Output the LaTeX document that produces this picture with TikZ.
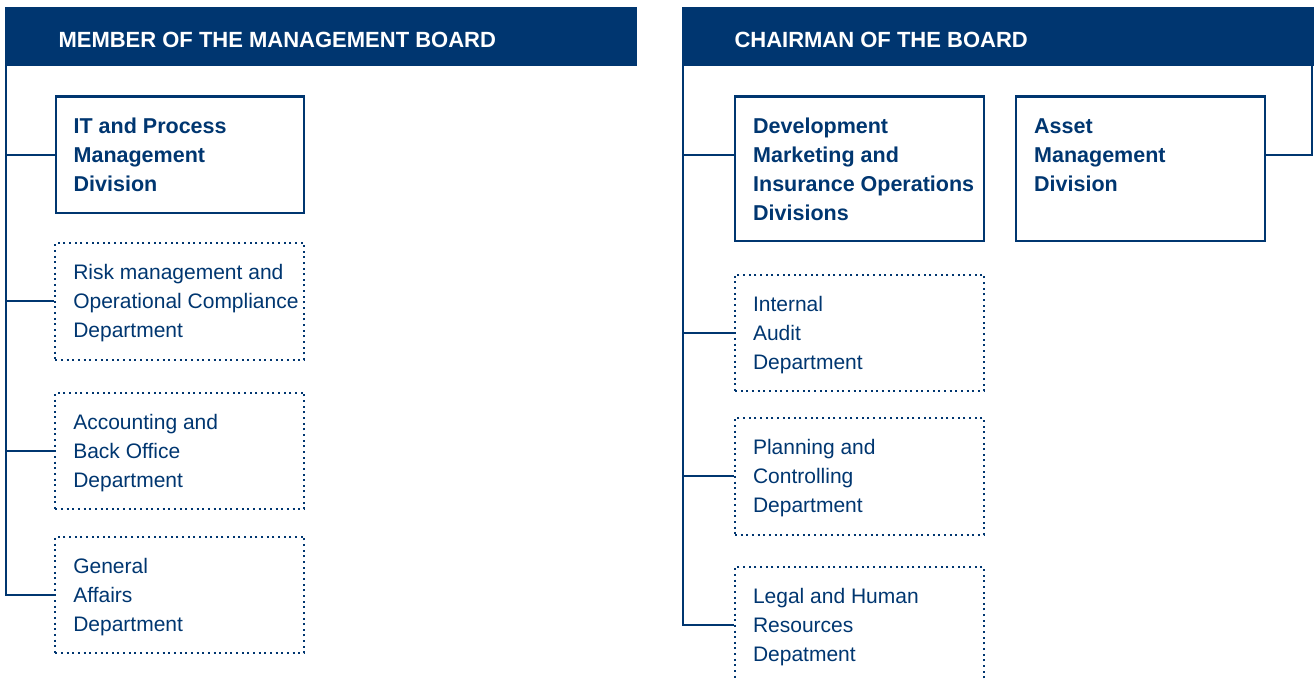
\documentclass[tikz,border=0pt]{standalone}
\usepackage{fontspec}
\setmainfont{Liberation Sans}
\usetikzlibrary{calc}

\definecolor{boardblue}{RGB}{0,54,112}

% text block of a card: width, height, lines; first baseline 36.5pt below the top
\newcommand{\cardtext}[3]{\parbox[c][#2][t]{#1}{\raggedright\leftskip=18pt\rule{0pt}{36.5pt}\ignorespaces#3\par}}

\begin{document}
\begin{tikzpicture}[x=1pt, y=-1pt,
  header/.style={fill=boardblue, draw=none, inner sep=0pt, anchor=north west, minimum height=59pt},
  headtext/.style={text=white, font=\bfseries\fontsize{22pt}{26pt}\selectfont, anchor=base west, inner sep=0pt},
  division/.style={draw=boardblue, line width=2.3pt, inner sep=0pt, anchor=north west, text=boardblue,
    font=\bfseries\fontsize{21.5pt}{29pt}\selectfont},
  department/.style={draw=boardblue, line width=2pt, dash pattern=on 2pt off 3.65pt, inner sep=0pt,
    anchor=north west, text=boardblue, font=\fontsize{21pt}{29pt}\selectfont},
  link/.style={draw=boardblue, line width=2.3pt}]

\useasboundingbox (0,0) rectangle (1314,679);
\clip (0,0) rectangle (1314,679);

% ---------- left column ----------
\node[header, minimum width=632pt] (hdrL) at (5,7) {};
\node[headtext] (hdrLtext) at (58.3,47.7) {MEMBER OF THE MANAGEMENT BOARD};
\coordinate (lt) at ($(hdrL.south west)+(1.2,0)$);

\node[division]   (it)   at (54.5,95.5)  {\cardtext{248.5pt}{116.5pt}{IT and Process\\Management\\Division}};
\node[department] (risk) at (54.3,242)   {\cardtext{249pt}{116.5pt}{Risk management and\\Operational Compliance\\Department}};
\node[department] (acc)  at (54.3,391.5) {\cardtext{249pt}{116.5pt}{Accounting and\\Back Office\\Department}};
\node[department] (gen)  at (54.3,535.5) {\cardtext{249pt}{116.5pt}{General\\Affairs\\Department}};

\draw[link] (lt) |- (gen.west);
\draw[link] (it.west) -- (it.west -| lt);
\draw[link] (risk.west) -- (risk.west -| lt);
\draw[link] (acc.west) -- (acc.west -| lt);

% ---------- right column ----------
\node[header, minimum width=640pt] (hdrR) at (682,7) {};
\node[headtext] (hdrRtext) at (734.3,47.7) {CHAIRMAN OF THE BOARD};
\coordinate (rt) at ($(hdrR.south west)+(1.2,0)$);
\coordinate (rte) at (1312,66);

\node[division]   (dev)    at (734,95.5)  {\cardtext{248.5pt}{144.5pt}{Development\\Marketing and\\Insurance Operations\\Divisions}};
\node[division]   (asset)  at (1015,95.5) {\cardtext{248.5pt}{144.5pt}{Asset\\Management\\Division}};
\node[department] (audit)  at (734,273.5) {\cardtext{249pt}{116.5pt}{Internal\\Audit\\Department}};
\node[department] (plan)   at (734,417)   {\cardtext{249pt}{116.5pt}{Planning and\\Controlling\\Department}};
\node[department] (legal)  at (734,566)   {\cardtext{249pt}{116.5pt}{Legal and Human\\Resources\\Depatment}};

\coordinate (devin) at ($(dev.north west)!0.405!(dev.south west)$);
\coordinate (assetin) at ($(asset.north east)!0.405!(asset.south east)$);

\draw[link] (rt) |- (legal.west);
\draw[link] (devin) -- (devin -| rt);
\draw[link] (audit.west) -- (audit.west -| rt);
\draw[link] (plan.west) -- (plan.west -| rt);
\draw[link] (rte) |- (assetin);

\end{tikzpicture}
\end{document}
